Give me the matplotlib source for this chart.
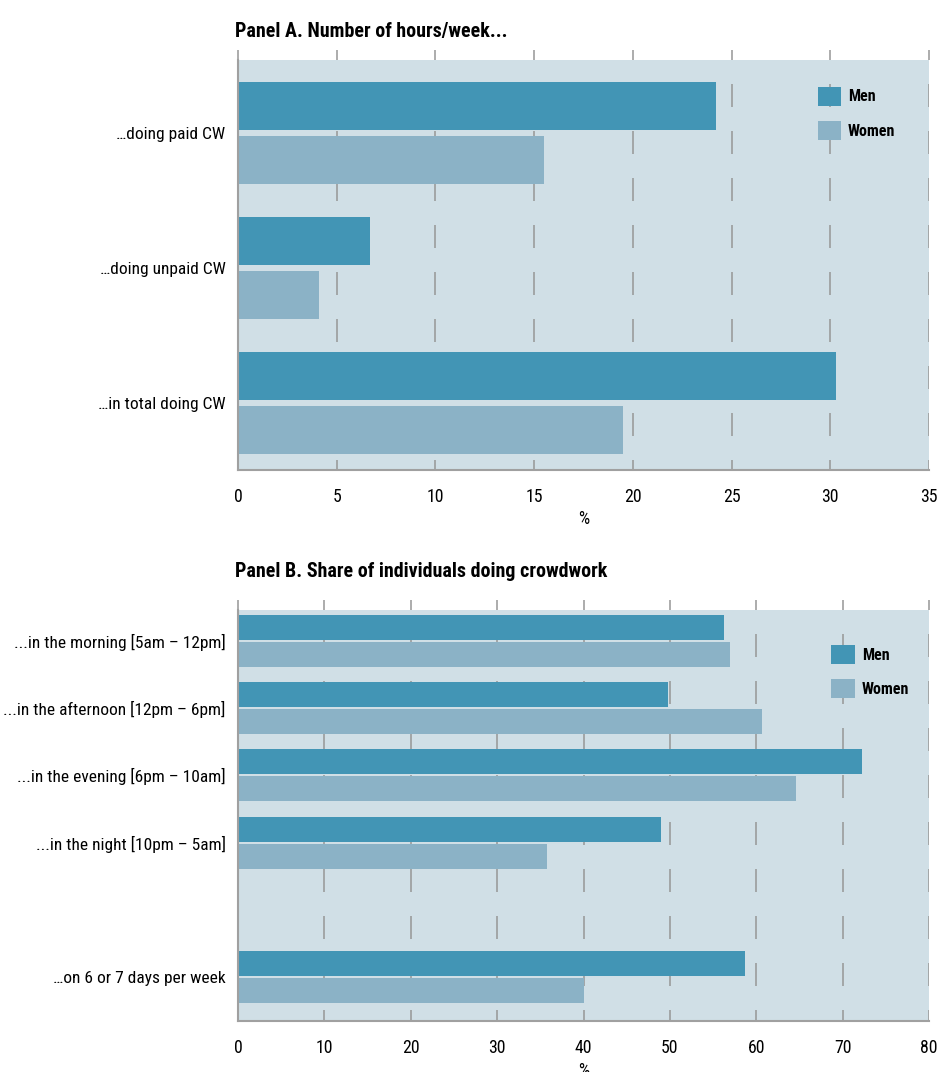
import matplotlib
matplotlib.use("Agg")
import matplotlib.pyplot as plt
from matplotlib import font_manager as fm

names = {f.name for f in fm.fontManager.ttflist}
candidates = ["Roboto Condensed", "Archivo Narrow", "PT Sans Narrow", "Fira Sans Condensed",
              "IBM Plex Sans Condensed", "Barlow Condensed", "Open Sans Condensed",
              "Sofia Sans Condensed", "Encode Sans Condensed", "Asap Condensed",
              "Liberation Sans Narrow"]
FONT = next((c for c in candidates if c in names), None)
if FONT is None:
    FONT = "DejaVu Sans"
    plt.rcParams['font.stretch'] = 'condensed'
plt.rcParams['font.family'] = [FONT, 'DejaVu Sans']
plt.rcParams['lines.scale_dashes'] = False

# ---- data ----
a_categories = ["\u2026doing paid CW", "\u2026doing unpaid CW", "\u2026in total doing CW"]
a_positions = [0, 1, 2]
a_men = [24.2, 6.7, 30.3]
a_women = [15.5, 4.1, 19.5]
a_ticks = [0, 5, 10, 15, 20, 25, 30, 35]

b_categories = ["...in the morning [5am \u2013 12pm]", "...in the afternoon [12pm \u2013 6pm]",
                "...in the evening [6pm \u2013 10am]", "...in the night [10pm \u2013 5am]",
                "\u2026on 6 or 7 days per week"]
b_positions = [0, 1, 2, 3, 5]
b_men = [56.3, 49.8, 72.2, 49.0, 58.7]
b_women = [57.0, 60.7, 64.6, 35.8, 40.1]
b_ticks = [0, 10, 20, 30, 40, 50, 60, 70, 80]

MEN = "#4295b5"
WOMEN = "#8bb2c6"
BG = "#d0dfe6"
GRID = "#969696"

W, H = 942, 1072
fig = plt.figure(figsize=(W / 100, H / 100), dpi=100)


def px2pt(p):
    return p * 72 / 100


def make_panel(rect, title, title_gap, cats, pos, men, women, ticks, xmax, height, off, ylim, leg_anchor):
    ax = fig.add_axes(rect)
    ax.set_facecolor(BG)
    ax.barh([p - off for p in pos], men, height=height, color=MEN, zorder=3, label="Men")
    ax.barh([p + off for p in pos], women, height=height, color=WOMEN, zorder=3, label="Women")
    ax.set_xlim(0, xmax)
    ax.set_ylim(*ylim)
    ax.set_yticks(pos)
    ax.set_yticklabels(cats, fontsize=12.5)
    ax.set_xticks(ticks)
    ax.set_xticklabels([str(t) for t in ticks], fontsize=12.8)
    ax.tick_params(axis='y', length=0, pad=9)
    ax.tick_params(axis='x', which='both', bottom=False, top=True, direction='out',
                   length=px2pt(10), width=1.1, color=GRID, pad=5.5)
    ax.set_xlabel("%", fontsize=12.8, labelpad=3.5)
    for s in ['top', 'right']:
        ax.spines[s].set_visible(False)
    for s in ['left', 'bottom']:
        ax.spines[s].set_color("#a0a0a0")
        ax.spines[s].set_linewidth(1.5)
        ax.spines[s].set_zorder(4)
    for t in ticks:
        ax.plot([t, t], [ylim[1], ylim[0]], color=GRID, lw=1.1, zorder=1,
                linestyle=(px2pt(23), (px2pt(23), px2pt(24))))
    ax.text(-0.005, 1.0 + title_gap / (rect[3] * H), title, transform=ax.transAxes,
            fontsize=14.4, fontweight='bold', ha='left', va='baseline')
    ax.legend(loc='upper left', bbox_to_anchor=leg_anchor, frameon=False,
              handlelength=1.45, handleheight=1.45, handletextpad=0.45, labelspacing=0.95,
              prop={'weight': 'bold', 'size': 11.5})
    return ax


axA = make_panel([238 / W, 1 - 470 / H, 691 / W, 410 / H], "Panel A. Number of hours/week...", 23,
                 a_categories, a_positions, a_men, a_women, a_ticks, 35,
                 0.356, 0.2, (2.496, -0.541), (0.818, 0.97))
axB = make_panel([238 / W, 1 - 1021 / H, 691 / W, 411 / H], "Panel B. Share of individuals doing crowdwork", 33,
                 b_categories, b_positions, b_men, b_women, b_ticks, 80,
                 0.373, 0.2015, (5.657, -0.463), (0.838, 0.95))

fig.savefig("out.png", dpi=100)
